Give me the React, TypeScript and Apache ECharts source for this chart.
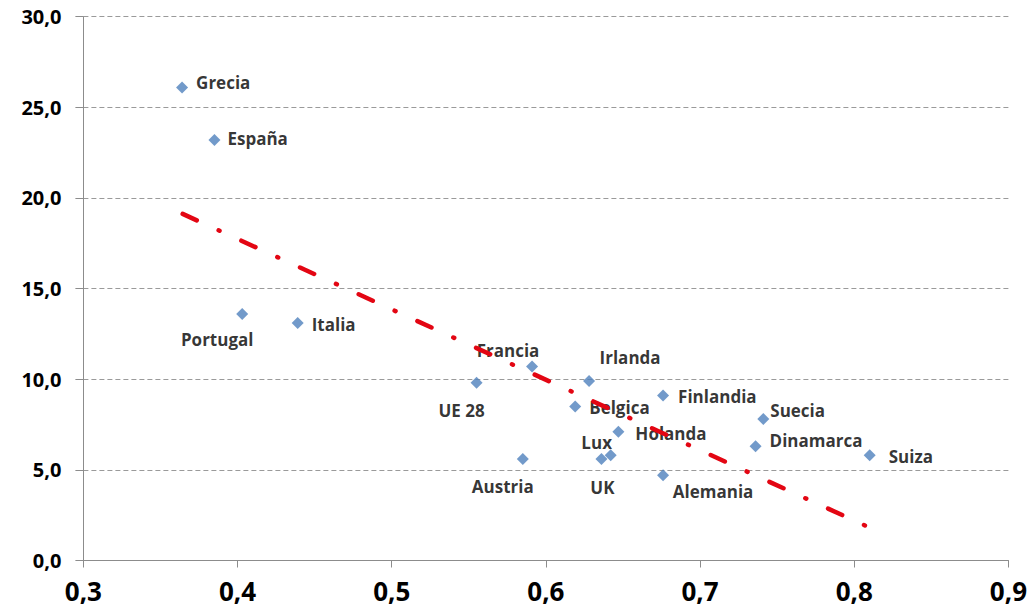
import React, { useEffect, useRef } from "react";
import * as echarts from "echarts";

const countries = [
  "Grecia", "España", "Portugal", "Italia", "UE 28", "Francia", "Austria", "Irlanda",
  "Belgica", "Finlandia", "Holanda", "Lux", "UK", "Alemania", "Suecia", "Dinamarca", "Suiza",
];
const xValues = [
  0.364, 0.385, 0.403, 0.439, 0.555, 0.591, 0.585, 0.628,
  0.619, 0.676, 0.647, 0.642, 0.636, 0.676, 0.741, 0.736, 0.810,
];
const yValues = [
  26.1, 23.2, 13.6, 13.1, 9.8, 10.7, 5.6, 9.9,
  8.5, 9.1, 7.1, 5.8, 5.6, 4.7, 7.8, 6.3, 5.8,
];
const trendX = [0.3644, 0.8083];
const trendY = [19.12, 1.88];
const yTicks = { min: 0, max: 30, interval: 5 };
const xTicks = { min: 0.3, max: 0.9, interval: 0.1 };

// label layout: [dx, dy, align]
const labelLayout: [number, number, string][] = [
  [14, -5, "left"], [13, -1, "left"], [-25, 26, "center"], [14, 1, "left"],
  [-15, 28, "center"], [-24, -16, "center"], [-20, 28, "center"], [41, -24, "center"],
  [14, 1, "left"], [15, 1, "left"], [17, 2, "left"], [-14, -13, "center"],
  [1, 29, "center"], [50, 16, "center"], [7, -9, "left"], [14, -6, "left"], [19, 1, "left"],
];

const fmt = (v: number) => v.toFixed(1).replace(".", ",");

export default function App() {
  const ref = useRef<HTMLDivElement>(null);
  useEffect(() => {
    if (!ref.current) return;
    const chart = echarts.init(ref.current, undefined, { renderer: "svg" });
    const font = "'Open Sans', 'Liberation Sans', sans-serif";
    const scatterData = countries.map((name, i) => ({
      name,
      value: [xValues[i], yValues[i]],
      label: {
        show: true,
        position: "inside",
        offset: [labelLayout[i][0], labelLayout[i][1]],
        align: labelLayout[i][2],
        verticalAlign: "middle",
      },
    }));
    chart.setOption({
      animation: false,
      backgroundColor: "#ffffff",
      grid: { left: 83.4, right: 21.5, top: 16.7, bottom: 52.5 },
      xAxis: {
        type: "value",
        min: xTicks.min,
        max: xTicks.max,
        interval: xTicks.interval,
        axisLine: { show: true, lineStyle: { color: "#8c8c8c", width: 1 } },
        axisTick: { show: true, length: 7, lineStyle: { color: "#8c8c8c" } },
        splitLine: { show: false },
        axisLabel: {
          formatter: (v: number) => fmt(v),
          fontFamily: font,
          fontWeight: "bold",
          fontSize: 26,
          color: "#000",
          margin: 17,
        },
      },
      yAxis: {
        type: "value",
        min: yTicks.min,
        max: yTicks.max,
        interval: yTicks.interval,
        axisLine: { show: true, lineStyle: { color: "#8c8c8c", width: 1 } },
        axisTick: { show: true, length: 8, lineStyle: { color: "#8c8c8c" } },
        splitLine: { show: true, lineStyle: { color: "#9a9a9a", type: [5, 3], width: 1 } },
        axisLabel: {
          formatter: (v: number) => fmt(v),
          fontFamily: font,
          fontWeight: "bold",
          fontSize: 20,
          color: "#000",
          margin: 22,
        },
      },
      series: [
        {
          type: "scatter",
          z: 2,
          symbol: "diamond",
          symbolSize: 12,
          itemStyle: { color: "#4f81bd" },
          label: {
            show: true,
            formatter: (p: any) => p.name,
            fontFamily: font,
            fontWeight: "bold",
            fontSize: 17,
            color: "#000",
          },
          data: scatterData,
        },
        {
          type: "line",
          z: 5,
          symbol: "none",
          silent: true,
          lineStyle: { color: "#e30613", width: 4.5, type: [15.5, 24, 1, 24], cap: "round" },
          data: trendX.map((x, i) => [x, trendY[i]]),
        },
      ],
    });
    return () => chart.dispose();
  }, []);
  return (
    <div
      ref={ref}
      style={{ position: "fixed", left: 0, top: 0, width: 1030, height: 613, background: "#fff" }}
    />
  );
}
